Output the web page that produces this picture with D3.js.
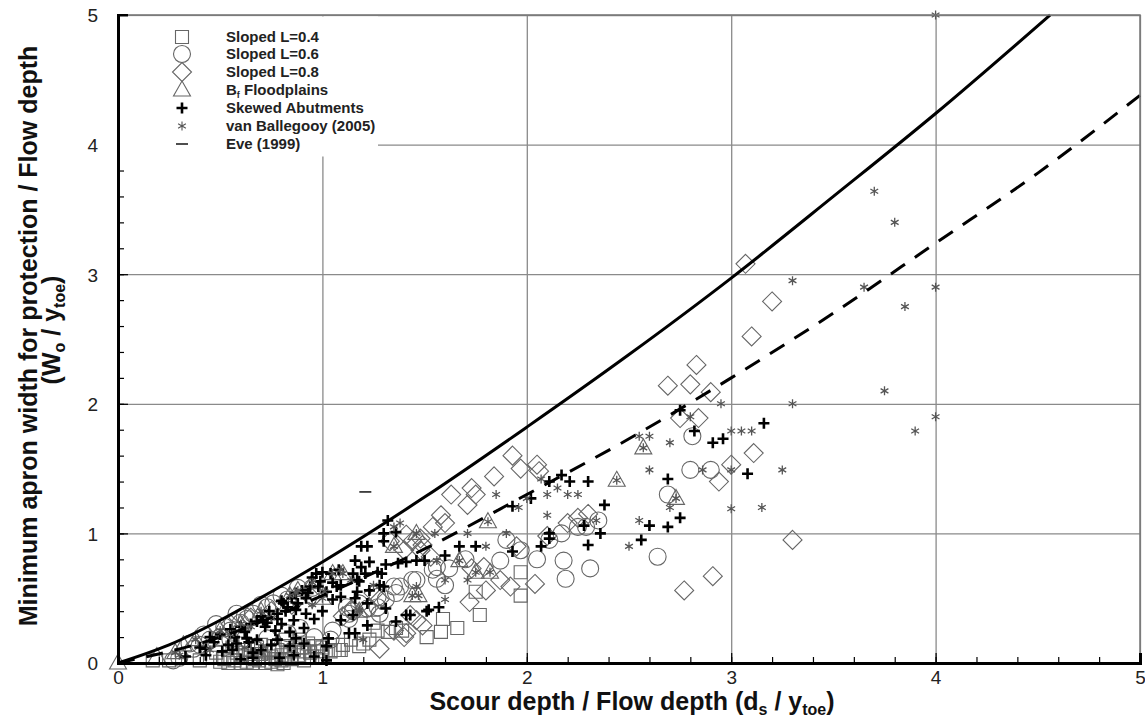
<!DOCTYPE html>
<html lang="en">
<head>
<meta charset="UTF-8">
<title>Apron width vs scour depth</title>
<script src="https://d3js.org/d3.v7.min.js"></script>
<style>
  body { margin: 0; background: #fff; }
  svg { font-family: "Liberation Sans", Arial, sans-serif; }
  .tick text { font-size: 19px; fill: #222; }
  .legend text { font-size: 15px; font-weight: bold; fill: #222; }
  .title { font-size: 25px; font-weight: bold; fill: #111; }
</style>
</head>
<body>
<script>
// ---- data: [ds/ytoe, Wo/ytoe] ----
const sloped04 = [
  [1.97,0.70],[1.97,0.52],[1.77,0.37],[1.66,0.27],[1.58,0.24],[1.51,0.20],[1.75,0.55],[1.59,0.34],
  [1.36,0.27],[1.32,0.24],[1.25,0.31],[1.20,0.15],[1.08,0.10],[1.04,0.09],[0.97,0.13],[0.91,0.09],
  [0.84,0.09],[1.18,0.13],[1.23,0.18],[1.27,0.25],[1.09,0.10],[0.96,0.13],[0.89,0.18],[0.83,0.13],
  [0.78,0.10],[0.81,0.00],[0.91,0.02],[1.39,0.25],[1.06,0.10],[1.00,0.05],[0.95,0.05],
  [0.50,0.01],[0.54,0.00],[0.57,0.02],[0.60,0.00],[0.63,0.01],[0.66,0.00],[0.69,0.02],[0.72,0.00],
  [0.75,0.01],[0.78,-0.01],[0.55,0.05],[0.60,0.06],[0.65,0.04],[0.70,0.07],[0.75,0.05],[0.85,0.03],
  [0.88,0.06],[0.62,0.10],[0.68,0.12],[0.72,0.09],[0.80,0.06],[0.17,0.02],[0.25,0.02],[0.45,0.04],
  [0.40,0.02],[0.93,0.15],[1.00,0.12],[0.82,0.18],
  [0.52,0.03],[0.58,0.08],[0.64,0.07],[0.67,0.03],[0.71,0.04],[0.74,0.08],[0.77,0.03],[0.80,0.02],
  [0.86,0.10],[0.90,0.12],[0.70,0.14],[0.76,0.13],[0.56,0.12],[0.62,0.15],[0.48,0.08],[0.94,0.08],
  [0.98,0.09],[1.10,0.14],[1.14,0.18]
];
const sloped06 = [
  [2.81,1.75],[2.80,1.49],[2.90,1.49],[2.69,1.30],[2.64,0.82],[2.18,0.79],[2.31,0.73],[2.19,0.65],
  [2.35,1.10],[2.29,1.05],[2.17,1.00],[2.11,0.95],[2.05,0.80],[1.97,0.87],[1.87,0.79],[1.56,0.74],
  [1.62,0.73],[1.44,0.64],[1.38,0.59],[1.36,0.54],[1.27,0.51],[1.18,0.46],[1.13,0.38],[1.28,0.38],
  [1.35,0.59],[1.46,0.64],[1.54,0.72],[1.56,0.65],[1.31,0.49],[1.27,0.43],[1.12,0.43],[1.15,0.40],
  [1.13,0.34],[1.22,0.42],[0.96,0.20],[1.05,0.25],[1.04,0.18],[0.89,0.27],[0.83,0.23],[0.73,0.19],
  [0.68,0.10],[0.27,0.02],[0.30,0.04],[0.37,0.11],[0.40,0.14],[0.45,0.18],[0.50,0.20],[0.55,0.25],
  [0.60,0.31],[0.63,0.34],[0.66,0.38],[0.73,0.43],[0.76,0.46],[0.83,0.49],[0.55,0.18],[1.70,0.80],
  [1.90,0.95],[2.25,1.05],[1.60,0.60],[0.48,0.30],[0.58,0.38],
  [0.35,0.15],[0.42,0.22],[0.52,0.28],[0.62,0.36],[0.70,0.45],[0.80,0.52],[0.88,0.58],[0.95,0.58]
];
const sloped08 = [
  [3.07,3.08],[3.20,2.79],[3.10,2.52],[2.83,2.30],[2.69,2.14],[2.80,2.15],[2.90,2.09],[2.75,1.89],
  [2.84,1.89],[3.11,1.62],[3.00,1.53],[2.94,1.40],[3.30,0.95],[2.91,0.67],[2.77,0.56],[2.25,1.12],
  [2.20,1.08],[1.93,1.60],[1.84,1.44],[1.97,1.50],[2.05,1.53],[2.06,1.48],[1.73,1.35],[1.75,1.30],
  [1.63,1.30],[1.71,1.22],[1.58,1.14],[1.60,1.08],[1.54,1.05],[1.48,0.96],[1.41,0.99],[1.33,0.94],
  [1.40,0.87],[1.48,0.87],[1.53,0.82],[1.73,0.73],[1.79,0.74],[1.80,0.56],[1.72,0.47],[1.87,0.64],
  [1.92,0.59],[2.04,0.61],[1.41,0.23],[1.28,0.11],[1.43,0.37],[1.49,0.29],[1.40,0.20],[1.35,0.25],
  [1.46,0.33],[1.25,0.54],[1.28,0.49],[1.23,0.43],[1.14,0.41],[1.10,0.36],[1.44,0.94],[1.49,0.91],
  [0.55,0.30],[0.65,0.35],[0.75,0.40],[0.85,0.45],[0.95,0.50],[2.30,1.15],[2.10,0.98],[1.95,0.90]
];
const floodplains = [
  [0.00,0.00],[0.19,0.05],[0.38,0.18],[0.32,0.14],[0.88,0.56],[0.84,0.52],[1.05,0.69],[1.10,0.69],
  [1.18,0.40],[1.35,0.90],[1.44,0.52],[1.46,1.00],[1.47,0.52],[1.67,0.79],[1.75,0.70],[1.82,0.70],
  [1.81,1.09],[2.44,1.41],[2.57,1.66],[2.73,1.27],[0.60,0.30],[0.70,0.40],[0.50,0.25],[1.00,0.50],
  [0.95,0.62],[0.28,0.08]
];
const skewed = [
  [2.17,1.45],[2.21,1.40],[2.30,1.40],[2.38,1.22],[2.28,1.06],[2.36,1.00],[2.30,0.91],[2.60,1.06],
  [2.69,1.05],[2.75,1.12],[2.56,0.95],[2.69,1.42],[2.82,1.79],[2.91,1.70],[2.96,1.73],[3.16,1.85],
  [3.08,1.46],[2.75,1.95],[2.11,1.00],[2.11,1.40],[1.93,1.21],[2.02,1.27],[1.67,0.90],[1.75,0.90],
  [1.60,0.83],[1.93,0.86],[2.07,0.90],[2.11,0.96],[1.32,1.10],[1.36,1.01],[1.30,1.00],[1.22,0.90],
  [1.19,0.90],[1.30,0.94],[1.16,0.79],[1.23,0.78],[1.19,0.74],[1.27,0.70],[1.37,0.77],[1.41,0.78],
  [1.46,0.79],[1.50,0.79],[1.31,0.76],[1.08,0.72],[0.99,0.63],[0.94,0.59],[0.93,0.54],[1.07,0.59],
  [1.09,0.51],[1.17,0.64],[1.23,0.56],[1.30,0.59],[1.16,0.50],[1.05,0.49],[1.52,0.41],[1.57,0.43],
  [1.43,0.37],[1.22,0.29],[1.36,0.32],[1.13,0.23],[1.16,0.23],[1.03,0.19],[1.02,0.13],[0.87,0.41],
  [0.86,0.33],[0.96,0.34],[0.87,0.19],[0.84,0.13],[1.15,0.69],[1.21,0.69],[0.87,0.54],[0.92,0.50],
  [0.81,0.46],[0.82,0.40],[0.91,0.27],[0.78,0.18],[0.78,0.34],[1.17,0.55],[1.31,0.42],[1.41,0.37],
  [1.51,0.40],[0.33,0.05],[0.43,0.06],[0.47,0.16],[0.43,0.11],[0.54,0.14],[0.58,0.15],[0.63,0.19],
  [0.68,0.18],[0.71,0.33],[0.78,0.38],[0.83,0.43],[0.77,0.25],[0.98,0.59],[1.02,0.55],[0.92,0.38],
  [0.91,0.15],[1.09,0.33],[1.15,0.37],[1.22,0.46],[1.28,0.60],[0.97,0.69],[1.04,0.69],[1.29,0.69],
  [1.09,0.60],[1.18,0.63],[0.68,0.32],[0.73,0.31],[0.64,0.16],[0.51,0.09],[0.56,0.10],[0.79,0.04],
  [0.86,0.06],[0.60,0.03],[0.66,0.04],[1.02,0.02],[0.96,0.05],
  [0.45,0.20],[0.50,0.22],[0.55,0.26],[0.60,0.28],[0.65,0.30],[0.70,0.36],[0.74,0.40],[0.80,0.48],
  [0.85,0.50],[0.90,0.56],[0.95,0.66],[1.00,0.70],[0.62,0.24],[0.72,0.28],[0.80,0.30],[0.88,0.46],
  [0.57,0.20],[0.40,0.12],[0.70,0.10],[0.75,0.14],[0.66,0.08],[0.84,0.24],[1.00,0.40],[1.05,0.62]
];
const vanBallegooy = [
  [4.00,5.00],[3.70,3.64],[3.80,3.40],[3.65,2.90],[4.00,2.90],[3.85,2.75],[3.75,2.10],[4.00,1.90],
  [3.90,1.79],[3.30,2.95],[3.30,2.00],[2.95,2.00],[3.00,1.79],[3.05,1.79],[3.10,1.79],[2.80,1.90],
  [2.70,1.70],[2.55,1.75],[2.60,1.75],[2.60,1.49],[2.86,1.49],[3.00,1.49],[3.25,1.49],[3.00,1.19],
  [3.15,1.20],[2.70,1.20],[2.55,1.10],[2.50,0.90],[2.44,1.41],[2.57,1.66],[2.73,1.27],[2.34,1.10],
  [2.15,1.35],[2.20,1.30],[2.25,1.30],[1.85,1.30],[1.90,1.00],[1.80,0.90],[2.10,1.30],[2.10,1.14],
  [2.00,1.27],[1.96,1.20],[1.71,1.00],[1.55,1.00],[1.35,0.90],[1.35,1.05],[1.81,1.09],[1.46,1.00],
  [1.56,0.79],[1.67,0.79],[1.75,0.70],[1.82,0.70],[1.71,0.64],[1.60,0.64],[1.47,0.52],[1.46,0.59],
  [1.60,0.49],[1.18,0.41],[1.05,0.69],[1.14,0.64],[1.09,0.72],[1.20,0.18],[1.01,0.55],[0.87,0.54],
  [0.88,0.56],[1.10,0.69],[1.44,0.52],[1.18,0.40],[0.84,0.52],[0.55,0.22],[0.65,0.28],[0.45,0.10],
  [0.75,0.35],[0.30,0.06],[0.38,0.18],[0.62,0.12],[0.95,0.45],[1.25,0.60],[2.07,1.42],[1.38,1.08],
  [0.60,0.30],[0.70,0.40],[0.50,0.25],[1.00,0.50],[0.95,0.62],[0.28,0.08]
];
const eve = [[1.21,1.32]];

// envelope curves
const solidCurve = [
  [0,0],[0.25,0.14],[0.5,0.33],[0.75,0.55],[1,0.78],[1.5,1.28],[2,1.82],[2.5,2.38],
  [3,2.97],[3.5,3.6],[4,4.24],[4.56,5.0]
];
const dashedCurve = [
  [0,0],[0.5,0.2],[1,0.52],[1.5,0.88],[2,1.3],[2.5,1.73],[3,2.2],[3.5,2.7],
  [4,3.24],[4.5,3.78],[5,4.38]
];

const legendLabels = ["Sloped L=0.4", "Sloped L=0.6", "Sloped L=0.8", "B|f| Floodplains",
  "Skewed Abutments", "van Ballegooy (2005)", "Eve (1999)"];
const majorTicks = [0, 1, 2, 3, 4, 5];

// ---- layout ----
const W = 1145, H = 722;
const x = d3.scaleLinear().domain([0, 5]).range([118, 1140]);
const y = d3.scaleLinear().domain([0, 5]).range([663, 15]);

const svg = d3.select("body").append("svg").attr("width", W).attr("height", H);

const gridColor = "#8a8a8a";
const markColor = "#666";

// grid
svg.append("g")
  .attr("transform", `translate(0,${y(0)})`)
  .call(d3.axisBottom(x).tickValues(majorTicks).tickSize(-(y(0) - y(5))).tickFormat(""))
  .call(g => g.select(".domain").remove())
  .call(g => g.selectAll("line").attr("stroke", gridColor).attr("stroke-width", 1.3));
svg.append("g")
  .attr("transform", `translate(${x(0)},0)`)
  .call(d3.axisLeft(y).tickValues(majorTicks).tickSize(-(x(5) - x(0))).tickFormat(""))
  .call(g => g.select(".domain").remove())
  .call(g => g.selectAll("line").attr("stroke", gridColor).attr("stroke-width", 1.3));

// marker shapes
const shapes = {
  square: "M-6.5,-6.5H6.5V6.5H-6.5Z",
  diamond: "M0,-9.5L9.5,0L0,9.5L-9.5,0Z",
  triangle: "M0,-9L8.5,6L-8.5,6Z",
  plus: "M-5.5,0H5.5M0,-5.5V5.5",
  star: "M0,-4.5V4.5M-3.9,-2.25L3.9,2.25M-3.9,2.25L3.9,-2.25",
  dash: "M-6,0H6"
};

function drawPath(data, d, stroke, sw) {
  svg.append("g").selectAll("path").data(data).join("path")
    .attr("d", d)
    .attr("transform", p => `translate(${x(p[0])},${y(p[1])})`)
    .attr("fill", "none").attr("stroke", stroke).attr("stroke-width", sw);
}

drawPath(sloped04, shapes.square, markColor, 1.1);
svg.append("g").selectAll("circle").data(sloped06).join("circle")
  .attr("cx", p => x(p[0])).attr("cy", p => y(p[1])).attr("r", 8.5)
  .attr("fill", "none").attr("stroke", markColor).attr("stroke-width", 1.1);
drawPath(sloped08, shapes.diamond, markColor, 1.1);
drawPath(floodplains, shapes.triangle, markColor, 1.1);
drawPath(skewed, shapes.plus, "#000", 2.6);
drawPath(vanBallegooy, shapes.star, "#555", 1.3);
drawPath(eve, shapes.dash, "#222", 1.6);

// curves
const line = d3.line().x(p => x(p[0])).y(p => y(p[1])).curve(d3.curveMonotoneX);
svg.append("path").attr("d", line(solidCurve))
  .attr("fill", "none").attr("stroke", "#000").attr("stroke-width", 3);
svg.append("path").attr("d", line(dashedCurve))
  .attr("fill", "none").attr("stroke", "#000").attr("stroke-width", 3)
  .attr("stroke-dasharray", "17,12");

// frame top/right
svg.append("path")
  .attr("d", `M${x(0)},${y(5)}H${x(5)}V${y(0)}`)
  .attr("fill", "none").attr("stroke", "#777").attr("stroke-width", 1.5);

// axes
const axisG = svg.append("g").attr("class", "axes");
const xAxis = axisG.append("g").attr("transform", `translate(0,${y(0)})`)
  .call(d3.axisBottom(x).tickValues(majorTicks).tickSize(-10).tickPadding(21).tickFormat(d3.format("d")));
const yAxis = axisG.append("g").attr("transform", `translate(${x(0)},0)`)
  .call(d3.axisLeft(y).tickValues(majorTicks).tickSize(-10).tickPadding(20).tickFormat(d3.format("d")));
const minor = d3.range(0, 5.001, 0.2);
axisG.append("g").attr("transform", `translate(0,${y(0)})`)
  .call(d3.axisBottom(x).tickValues(minor).tickSize(-6).tickFormat(""))
  .call(g => g.select(".domain").remove());
axisG.append("g").attr("transform", `translate(${x(0)},0)`)
  .call(d3.axisLeft(y).tickValues(minor).tickSize(-6).tickFormat(""))
  .call(g => g.select(".domain").remove());
[xAxis, yAxis].forEach(a => {
  a.select(".domain").attr("stroke", "#000").attr("stroke-width", 3);
  a.selectAll(".tick text").style("font-family", "'Liberation Sans', Arial, sans-serif");
});
axisG.selectAll(".tick line").attr("stroke", "#000").attr("stroke-width", 1.2);
xAxis.selectAll(".tick text").attr("dy", "0");
yAxis.selectAll(".tick text").attr("dy", "0.36em");

// legend
const legend = svg.append("g").attr("class", "legend");
legend.append("rect").attr("x", 120).attr("y", 16.5).attr("width", 258).attr("height", 140).attr("fill", "#fff");
const legendRows = [37, 54, 72, 90, 108, 126, 144];
const legendShapes = ["square", "circle", "diamond", "triangle", "plus", "star", "dash"];
legendShapes.forEach((s, i) => {
  const g = legend.append("g").attr("transform", `translate(182,${legendRows[i]})`);
  if (s === "circle") {
    g.append("circle").attr("r", 8.5).attr("fill", "none").attr("stroke", markColor).attr("stroke-width", 1.1);
  } else {
    const sw = s === "plus" ? 2.6 : s === "dash" ? 1.6 : 1.1;
    const col = s === "plus" ? "#000" : s === "star" ? "#555" : s === "dash" ? "#222" : markColor;
    g.append("path").attr("d", shapes[s]).attr("fill", "none").attr("stroke", col).attr("stroke-width", sw);
  }
  const t = legend.append("text").attr("x", 226).attr("y", legendRows[i] + 5);
  const parts = legendLabels[i].split("|");
  t.append("tspan").text(parts[0]);
  if (parts.length > 1) {
    t.append("tspan").attr("font-size", 9).attr("dy", 3).text(parts[1]);
    t.append("tspan").attr("dy", -3).text(parts[2]);
  }
});

// axis titles
const xt = svg.append("text").attr("class", "title").attr("x", 632).attr("y", 710).attr("text-anchor", "middle");
xt.append("tspan").text("Scour depth / Flow depth (d");
xt.append("tspan").attr("font-size", 16).attr("dy", 5).text("s");
xt.append("tspan").attr("dy", -5).text(" / y");
xt.append("tspan").attr("font-size", 16).attr("dy", 5).text("toe");
xt.append("tspan").attr("dy", -5).text(")");

svg.append("text").attr("class", "title")
  .attr("transform", "translate(37,336) rotate(-90)").attr("text-anchor", "middle")
  .text("Minimum apron width for protection / Flow depth");
const yt2 = svg.append("text").attr("class", "title")
  .attr("transform", "translate(60,330) rotate(-90)").attr("text-anchor", "middle");
yt2.append("tspan").text("(W");
yt2.append("tspan").attr("font-size", 16).attr("dy", 5).text("o");
yt2.append("tspan").attr("dy", -5).text(" / y");
yt2.append("tspan").attr("font-size", 16).attr("dy", 5).text("toe");
yt2.append("tspan").attr("dy", -5).text(")");
</script>
</body>
</html>
